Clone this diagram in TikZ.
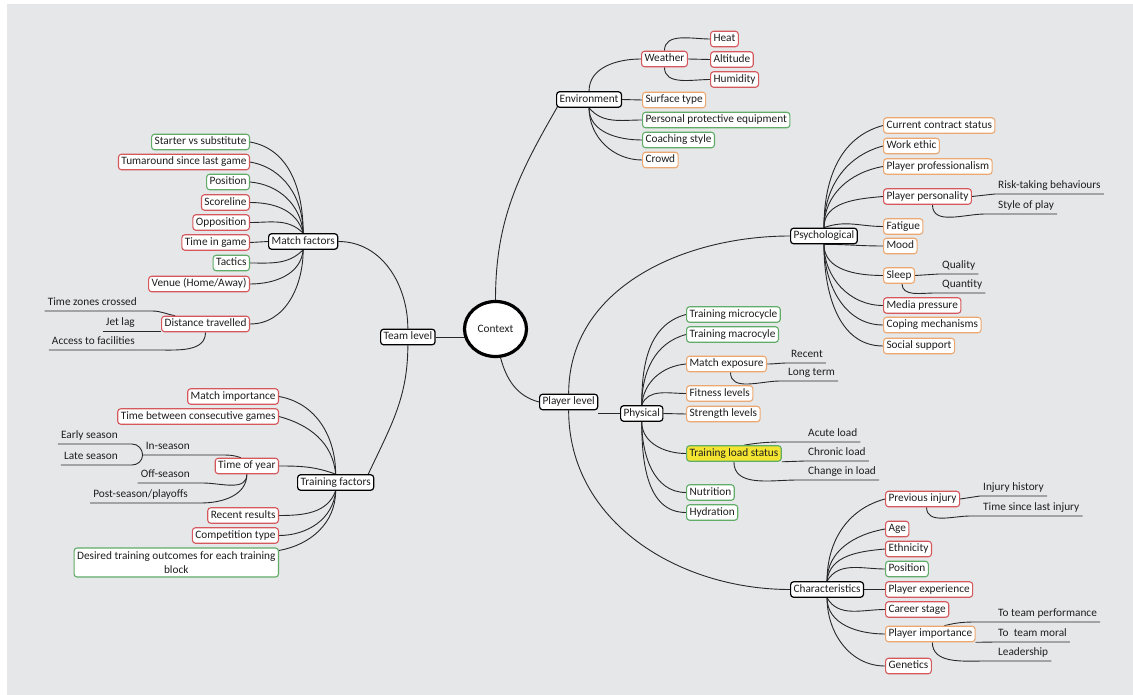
\documentclass[tikz,border=0pt]{standalone}
\usepackage{fontspec}
\setmainfont{Carlito}
\usetikzlibrary{shapes.geometric}
\definecolor{bgc}{RGB}{230,231,233}
\definecolor{redb}{RGB}{212,88,92}
\definecolor{orab}{RGB}{236,168,112}
\definecolor{grnb}{RGB}{96,172,104}
\definecolor{yelf}{RGB}{242,228,48}
\definecolor{linec}{RGB}{40,40,40}
\definecolor{txtc}{RGB}{30,30,30}
\newcommand\myfs{\fontsize{11.3}{14}\selectfont}
\pgfdeclarelayer{back}
\pgfdeclarelayer{bg}
\pgfsetlayers{back,bg,main}
\tikzset{
  box/.style={rounded corners=3pt, fill=white, line width=1.1pt, minimum height=15.5pt,
    inner xsep=3pt, inner ysep=0pt, font=\myfs, text=txtc},
  oneline/.style={text height=8.2pt, text depth=2.6pt},
  rbox/.style={box, oneline, draw=redb},
  obox/.style={box, oneline, draw=orab},
  gbox/.style={box, oneline, draw=grnb},
  kbox/.style={box, oneline, draw=black, line width=1.2pt},
  leaf/.style={inner xsep=3pt, inner ysep=2.5pt, font=\myfs, text=txtc, oneline},
  br/.style={draw=linec, line width=0.9pt},
  ctxs/.style={draw=black, ellipse, line width=3.2pt, fill=white, minimum width=62pt,
    minimum height=55pt, inner sep=0pt, font=\myfs, text=txtc}
}
\begin{document}
\begin{tikzpicture}[x=1pt,y=1pt]
\useasboundingbox (0,0) rectangle (1133,-695);
\begin{pgfonlayer}{back}
\fill[white] (0,0) rectangle (1133,-695);
\fill[bgc] (7,-4) rectangle (1133,-695);
\end{pgfonlayer}

% ---- centre
\node[ctxs] (ctx) at (495.5,-329) {Context};
\node[kbox, anchor=west] (team) at (380,-337) {Team level};
\node[kbox, anchor=west] (pl) at (539,-402) {Player level};

% ---- environment
\node[kbox, anchor=west] (env) at (556,-99.5) {Environment};
\node[rbox, anchor=west] (wea) at (641,-59) {Weather};
\node[rbox, anchor=west] (heat) at (710,-39) {Heat};
\node[rbox, anchor=west] (alt) at (710,-59.5) {Altitude};
\node[rbox, anchor=west] (hum) at (710,-79.5) {Humidity};
\node[obox, anchor=west] (surf) at (642,-100) {Surface type};
\node[gbox, anchor=west] (ppe) at (642,-120) {Personal protective equipment};
\node[gbox, anchor=west] (coach) at (642,-140) {Coaching style};
\node[obox, anchor=west] (crowd) at (642,-160) {Crowd};

% ---- match factors
\node[kbox, anchor=west] (mf) at (268,-241.5) {Match factors};
\node[gbox, anchor=east] (ssub) at (250,-142) {Starter vs substitute};
\node[rbox, anchor=east] (turn) at (250,-162) {Tumaround since last game};
\node[gbox, anchor=east] (posa) at (250,-182) {Position};
\node[rbox, anchor=east] (score) at (250,-202.5) {Scoreline};
\node[rbox, anchor=east] (opp) at (250,-222.5) {Opposition};
\node[rbox, anchor=east] (tig) at (250,-242.5) {Time in game};
\node[gbox, anchor=east] (tac) at (250,-263) {Tactics};
\node[rbox, anchor=east] (venue) at (250,-284) {Venue (Home/Away)};
\node[rbox, anchor=east] (dist) at (250,-324) {Distance travelled};
\node[leaf, anchor=south east] (tz) at (140,-311) {Time zones crossed};
\node[leaf, anchor=south east] (jl) at (138,-331) {Jet lag};
\node[leaf, anchor=south east] (af) at (138,-350) {Access to facilities};

% ---- training factors
\node[kbox, anchor=west] (tf) at (297,-482.5) {Training factors};
\node[rbox, anchor=east] (mi) at (279,-396.5) {Match importance};
\node[rbox, anchor=east] (tbcg) at (279,-416.5) {Time between consecutive games};
\node[rbox, anchor=east] (toy) at (279,-466) {Time of year};
\node[rbox, anchor=east] (rr) at (279,-515.5) {Recent results};
\node[rbox, anchor=east] (ct) at (279,-535.5) {Competition type};
\node[box, draw=grnb, anchor=east, align=center, inner ysep=2pt, minimum height=29pt] (dto) at (279,-562.5)
  {Desired training outcomes for each training\\block};
\node[leaf, anchor=south east] (is) at (193,-455) {In-season};
\node[leaf, anchor=south east] (es) at (121,-444) {Early season};
\node[leaf, anchor=south east] (ls) at (121,-465) {Late season};
\node[leaf, anchor=south east] (os) at (193,-483) {Off-season};
\node[leaf, anchor=south east] (ps) at (191,-503) {Post-season/playoffs};

% ---- physical
\node[kbox, anchor=west] (phy) at (620,-413.5) {Physical};
\node[gbox, anchor=west] (tmi) at (686,-314.5) {Training microcycle};
\node[gbox, anchor=west] (tma) at (686,-334.5) {Training macrocyle};
\node[obox, anchor=west] (mex) at (686,-364) {Match exposure};
\node[obox, anchor=west] (fit) at (686,-393.5) {Fitness levels};
\node[obox, anchor=west] (str) at (686,-414) {Strength levels};
\node[gbox, anchor=west, fill=yelf] (tls) at (686,-453.5) {Training load status};
\node[gbox, anchor=west] (nut) at (686,-492.5) {Nutrition};
\node[gbox, anchor=west] (hyd) at (686,-512.5) {Hydration};
\node[leaf, anchor=south west] (rec) at (788,-363) {Recent};
\node[leaf, anchor=south west] (lt) at (785,-381) {Long term};
\node[leaf, anchor=south west] (ac) at (805,-442) {Acute load};
\node[leaf, anchor=south west] (cl) at (805,-461) {Chronic load};
\node[leaf, anchor=south west] (cil) at (805,-480) {Change in load};

% ---- psychological
\node[kbox, anchor=west] (psy) at (790,-236) {Psychological};
\node[obox, anchor=west] (ccs) at (883,-125.5) {Current contract status};
\node[obox, anchor=west] (we) at (883,-146) {Work ethic};
\node[obox, anchor=west] (ppro) at (883,-166.5) {Player professionalism};
\node[rbox, anchor=west] (ppers) at (883,-196.5) {Player personality};
\node[obox, anchor=west] (fat) at (883,-226.5) {Fatigue};
\node[obox, anchor=west] (mood) at (883,-246) {Mood};
\node[obox, anchor=west] (sleep) at (883,-275.5) {Sleep};
\node[rbox, anchor=west] (media) at (883,-305.5) {Media pressure};
\node[obox, anchor=west] (cope) at (883,-325) {Coping mechanisms};
\node[obox, anchor=west] (soc) at (883,-346) {Social support};
\node[leaf, anchor=south west] (rtb) at (995,-194) {Risk-taking behaviours};
\node[leaf, anchor=south west] (sop) at (995,-214) {Style of play};
\node[leaf, anchor=south west] (qual) at (939,-274) {Quality};
\node[leaf, anchor=south west] (quan) at (939,-293) {Quantity};

% ---- characteristics
\node[kbox, anchor=west] (chr) at (790,-589.5) {Characteristics};
\node[rbox, anchor=west] (pinj) at (885,-499) {Previous injury};
\node[rbox, anchor=west] (age) at (885,-529) {Age};
\node[rbox, anchor=west] (eth) at (885,-549) {Ethnicity};
\node[gbox, anchor=west] (posb) at (885,-569) {Position};
\node[rbox, anchor=west] (pexp) at (885,-589.5) {Player experience};
\node[rbox, anchor=west] (cs) at (885,-609.5) {Career stage};
\node[obox, anchor=west] (pimp) at (885,-634) {Player importance};
\node[rbox, anchor=west] (gen) at (885,-666) {Genetics};
\node[leaf, anchor=south west] (ih) at (980,-496) {Injury history};
\node[leaf, anchor=south west] (tsli) at (980,-516) {Time since last injury};
\node[leaf, anchor=south west] (ttp) at (995,-622) {To team performance};
\node[leaf, anchor=south west] (ttm) at (995,-642) {To\ \ team moral};
\node[leaf, anchor=south west] (lead) at (995,-661) {Leadership};

\begin{pgfonlayer}{bg}
% main
\draw[br] (team.east) -- (team.east -| ctx.center);
\draw[br] (ctx.north) to[out=90,in=240] ([xshift=2pt,yshift=2pt]env.south west);
\draw[br] (ctx.-80) to[out=-75,in=165] (pl.west);
\draw[br] (team.north) to[out=90,in=0] (mf.east);
\draw[br] (team.south) to[out=-90,in=65] ([xshift=-6pt]tf.north east);
\draw[br] (pl.north) to[out=90,in=180] (psy.west);
\draw[br] (pl.south) to[out=-90,in=180] (chr.west);
\draw[br] (phy.west -| pl.east) -- (phy.west);
% environment
\draw[br] (env.north) to[out=90,in=180] (wea.west);
\draw[br] (env.east) -- (surf.west);
\draw[br] (env.south) to[out=-50,in=180] (ppe.west);
\draw[br] (env.south) to[out=-90,in=180] (coach.west);
\draw[br] (env.south) to[out=-90,in=180] (crowd.west);
\draw[br] (wea.north) to[out=90,in=180] (heat.west);
\draw[br] (wea.east) -- (alt.west);
\draw[br] (wea.south) to[out=-90,in=180] (hum.west);
% match factors
\draw[br] (mf.north) to[out=90,in=-10] (ssub.east);
\draw[br] (mf.north) to[out=90,in=-10] (turn.east);
\draw[br] (mf.north) to[out=95,in=-5] (posa.east);
\draw[br] (mf.north) to[out=105,in=0] (score.east);
\draw[br] (mf.north) to[out=135,in=0] (opp.east);
\draw[br] (mf.west) -- (tig.east);
\draw[br] (mf.south) to[out=-135,in=0] (tac.east);
\draw[br] (mf.south) to[out=-95,in=0] (venue.east);
\draw[br] (mf.south) to[out=-90,in=0] (dist.east);
\draw[br] ([xshift=14pt]dist.north west) to[out=170,in=0] ([xshift=12pt]tz.south east) -- (tz.south west);
\draw[br] (jl.south west) -- (jl.south -| dist.west);
\draw[br] (dist.south) to[out=-90,in=0] ([xshift=20pt]af.south east) -- (af.south west);
% training factors
\draw[br] (tf.north) to[out=90,in=-10] (mi.east);
\draw[br] (tf.north) to[out=95,in=-15] (tbcg.east);
\draw[br] (tf.north) to[out=160,in=0] (toy.east);
\draw[br] (tf.south) to[out=-110,in=0] (rr.east);
\draw[br] (tf.south) to[out=-95,in=0] (ct.east);
\draw[br] (tf.south) to[out=-90,in=10] ([yshift=-3pt]dto.north east);
\draw[br] ([xshift=-6pt]toy.north) to[out=160,in=0] ([xshift=30pt]is.south east) -- (is.south west);
\draw[br] (is.south west) to[out=90,in=0] ([xshift=11pt]es.south east) -- (es.south west);
\draw[br] (is.south west) to[out=-90,in=0] ([xshift=11pt]ls.south east) -- (ls.south west);
\draw[br] (toy.south) to[out=-90,in=0] ([xshift=10pt]os.south east) -- (os.south west);
\draw[br] (toy.south) to[out=-90,in=0] ([xshift=10pt]ps.south east) -- (ps.south west);
% physical
\draw[br] (phy.north) to[out=90,in=195] (tmi.west);
\draw[br] (phy.north) to[out=90,in=195] (tma.west);
\draw[br] (phy.north) to[out=85,in=185] (mex.west);
\draw[br] (phy.north) to[out=70,in=180] (fit.west);
\draw[br] (phy.east) -- (str.west);
\draw[br] (phy.south) to[out=-90,in=180] (tls.west);
\draw[br] (phy.south) to[out=-90,in=180] (nut.west);
\draw[br] (phy.south) to[out=-90,in=180] (hyd.west);
\draw[br] (mex.east) to[out=0,in=180] (rec.south west) -- (rec.south east);
\draw[br] ([xshift=4pt]mex.south) to[out=-90,in=180] ([xshift=-5pt]lt.south west) -- (lt.south east);
\draw[br] ([xshift=10pt]tls.north) to[out=10,in=180] ([xshift=-5pt]ac.south west) -- (ac.south east);
\draw[br] (tls.south east) -- (cl.south west) -- (cl.south east);
\draw[br] (tls.south) to[out=-90,in=180] ([xshift=-8pt]cil.south west) -- (cil.south east);
% psychological
\draw[br] (psy.north) to[out=90,in=195] (ccs.west);
\draw[br] (psy.north) to[out=90,in=195] (we.west);
\draw[br] (psy.north) to[out=90,in=190] (ppro.west);
\draw[br] (psy.north) to[out=90,in=185] (ppers.west);
\draw[br] (psy.north) to[out=20,in=180] (fat.west);
\draw[br] (psy.south) to[out=0,in=180] (mood.west);
\draw[br] (psy.south) to[out=-90,in=180] (sleep.west);
\draw[br] (psy.south) to[out=-90,in=180] (media.west);
\draw[br] (psy.south) to[out=-90,in=180] (cope.west);
\draw[br] (psy.south) to[out=-90,in=180] (soc.west);
\draw[br] (ppers.east) -- (rtb.south west) -- (rtb.south east);
\draw[br] ([xshift=5pt]ppers.south) to[out=-90,in=180] ([xshift=-10pt]sop.south west) -- (sop.south east);
\draw[br] (sleep.east) -- (qual.south west) -- (qual.south east);
\draw[br] ([xshift=3pt]sleep.south) to[out=-90,in=180] ([xshift=-5pt]quan.south west) -- (quan.south east);
% characteristics
\draw[br] (chr.north) to[out=90,in=195] (pinj.west);
\draw[br] (chr.north) to[out=90,in=190] (age.west);
\draw[br] (chr.north) to[out=85,in=185] (eth.west);
\draw[br] (chr.north) to[out=60,in=180] (posb.west);
\draw[br] (chr.east) -- (pexp.west);
\draw[br] (chr.south) to[out=-60,in=180] (cs.west);
\draw[br] (chr.south) to[out=-90,in=180] (pimp.west);
\draw[br] (chr.south) to[out=-90,in=180] (gen.west);
\draw[br] (pinj.east) -- (ih.south west) -- (ih.south east);
\draw[br] ([xshift=4pt]pinj.south) to[out=-90,in=180] ([xshift=-10pt]tsli.south west) -- (tsli.south east);
\draw[br] ([xshift=14pt]pimp.north) to[out=15,in=180] ([xshift=-10pt]ttp.south west) -- (ttp.south east);
\draw[br] (pimp.south east) -- (ttm.south west) -- (ttm.south east);
\draw[br] ([xshift=2pt]pimp.south) to[out=-90,in=180] ([xshift=-10pt]lead.south west) -- (lead.south east);
\end{pgfonlayer}
\end{tikzpicture}
\end{document}
